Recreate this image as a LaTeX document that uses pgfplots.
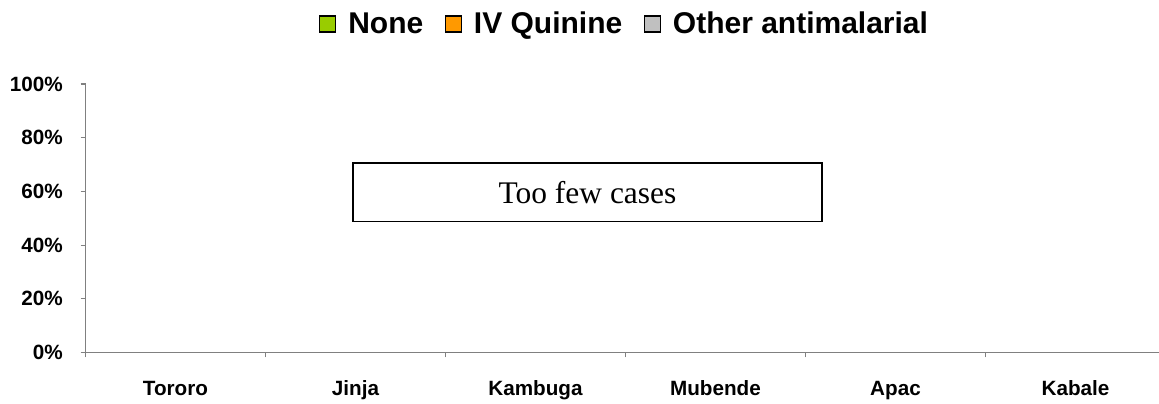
\documentclass[border=0pt]{standalone}
\usepackage{pgfplots}
\pgfplotsset{compat=1.18}
\usepackage{fontspec}
\setmainfont{Liberation Sans}
\newfontfamily\timesfont{Liberation Serif}
\definecolor{axgray}{RGB}{128,128,128}
\definecolor{cnone}{RGB}{153,204,0}
\definecolor{cquin}{RGB}{255,153,0}
\definecolor{cother}{RGB}{192,192,192}
\pgfplotsset{sqlegend/.style={legend image code/.code={\draw[##1, draw=black, line width=1pt] (0pt,-6pt) rectangle (12pt,6pt);}}}
\begin{document}
\begin{tikzpicture}
\begin{axis}[
  at={(64.125pt,37.875pt)}, anchor=south west,
  scale only axis, width=805.125pt, height=201.375pt,
  xmin=-0.5, xmax=5.4639, ymin=0, ymax=100,
  axis lines*=left,
  axis line style={draw=axgray, line width=1pt, -},
  tick align=outside,
  major tick length=3.75pt,
  xtick={-0.5,0.5,1.5,2.5,3.5,4.5}, xticklabels={},
  xtick style={draw=axgray, line width=0.8pt},
  extra x ticks={0,1,2,3,4,5},
  extra x tick labels={Tororo,Jinja,Kambuga,Mubende,Apac,Kabale},
  extra x tick style={major tick length=0pt},
  ytick={0,20,40,60,80,100},
  yticklabels={0\%,20\%,40\%,60\%,80\%,100\%},
  ytick style={draw=axgray, line width=0.8pt},
  ticklabel style={font=\bfseries\fontsize{15.5}{18}\selectfont},
  yticklabel style={anchor=east, inner sep=0pt, xshift=-13.1pt},
  xticklabel style={anchor=base, inner sep=0pt, yshift=-32.6pt},
  ybar stacked, bar width=0.5,
  legend columns=-1,
  legend style={at={(0.503,1.2235)}, anchor=center, draw=none, fill=none,
    font=\bfseries\fontsize{22.5}{27}\selectfont,
    /tikz/every even column/.append style={column sep=13pt},
    /tikz/every odd column/.append style={column sep=6pt},
    nodes={inner xsep=3pt}},
]
\addplot[fill=cnone, draw=none, forget plot] coordinates {(0,0) (1,0) (2,0) (3,0) (4,0) (5,0)};
\addplot[fill=cquin, draw=none, forget plot] coordinates {(0,0) (1,0) (2,0) (3,0) (4,0) (5,0)};
\addplot[fill=cother, draw=none, forget plot] coordinates {(0,0) (1,0) (2,0) (3,0) (4,0) (5,0)};
\addlegendimage{sqlegend, fill=cnone}
\addlegendentry{None}
\addlegendimage{sqlegend, fill=cquin}
\addlegendentry{IV Quinine}
\addlegendimage{sqlegend, fill=cother}
\addlegendentry{Other antimalarial}
\node[draw=black, line width=1pt, minimum width=351.75pt, minimum height=44pt, inner sep=0pt,
  font=\timesfont\fontsize{23.6}{28}\selectfont] at (axis cs:2.289,59.65) {Too few cases};
\end{axis}
\pgfresetboundingbox
\useasboundingbox (0,0) rectangle (869.25pt,302.25pt);
\end{tikzpicture}
\end{document}
